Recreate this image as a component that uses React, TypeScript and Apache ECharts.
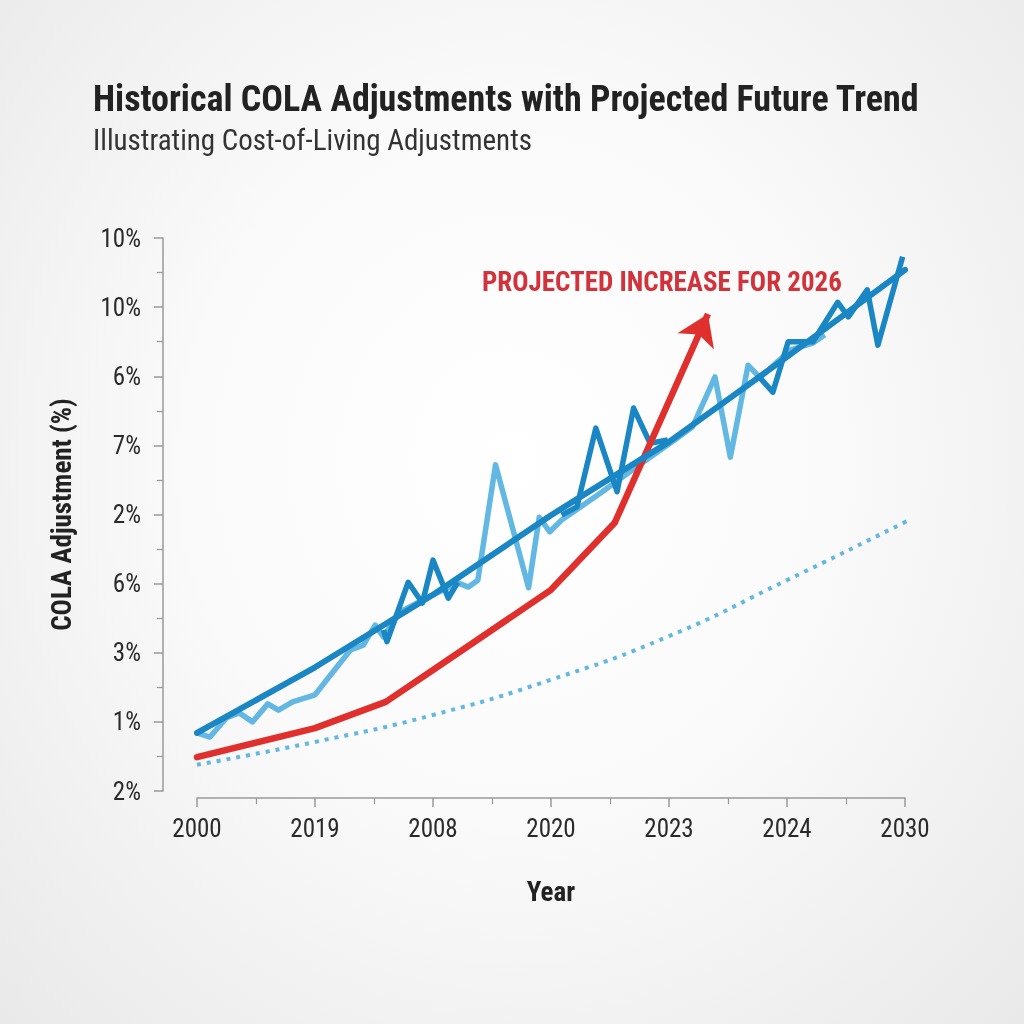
import React, { useEffect, useRef } from 'react';
import * as echarts from 'echarts';

const titleText = 'Historical COLA Adjustments with Projected Future Trend';
const subtitleText = 'Illustrating Cost-of-Living Adjustments';
const annotationText = 'PROJECTED INCREASE FOR 2026';
const xAxisName = 'Year';
const yAxisName = 'COLA Adjustment (%)';

const xLabels = ['2000', '2019', '2008', '2020', '2023', '2024', '2030'];
const yLabels = ['2%', '1%', '3%', '6%', '2%', '7%', '6%', '10%', '10%'];

const trend = [[0, 0.84], [1, 1.79], [2, 2.84], [3, 3.99], [4, 5.05], [5, 6.28], [6, 7.54]];

const lightNoisy = [
  [0, 0.84], [0.11, 0.78], [0.25, 1.06], [0.36, 1.13], [0.47, 1.0], [0.6, 1.26], [0.69, 1.17],
  [0.81, 1.29], [1.0, 1.39], [1.1, 1.61], [1.3, 2.04], [1.41, 2.11], [1.51, 2.4], [1.58, 2.23],
  [1.72, 2.59], [2.0, 2.84], [2.21, 3.01], [2.3, 2.95], [2.38, 3.05], [2.53, 4.72], [2.81, 2.94],
  [2.9, 3.96], [2.99, 3.75], [3.09, 3.92], [3.42, 4.31], [3.75, 4.72], [4.05, 5.08], [4.2, 5.27],
  [4.39, 5.99], [4.52, 4.83], [4.67, 6.16], [4.77, 5.98], [5.03, 6.38], [5.22, 6.48], [5.32, 6.6],
];

const darkNoisy = [
  [1.58, 2.33], [1.61, 2.16], [1.79, 3.02], [1.91, 2.72], [2.0, 3.34], [2.13, 2.79], [2.21, 3.02],
  null,
  [3.09, 3.99], [3.22, 4.11], [3.38, 5.25], [3.56, 4.33], [3.7, 5.54], [3.84, 5.03], [3.99, 5.08],
  null,
  [4.77, 5.98], [4.88, 5.77], [5.01, 6.5], [5.22, 6.5], [5.43, 7.07], [5.52, 6.86], [5.68, 7.25],
  [5.77, 6.45], [5.98, 7.73],
];

const projected = [[0, 0.49], [1, 0.91], [1.6, 1.29], [2, 1.75], [3, 2.91], [3.54, 3.88]];
const arrowFrom = [3.54, 3.88];
const arrowTo = [4.33, 6.9];

const baseline = [[0, 0.38], [1, 0.71], [2, 1.1], [3, 1.61], [4, 2.24], [5, 3.05], [6, 3.89], [6.07, 3.96]];

const FONT = "'Roboto Condensed','Liberation Sans Narrow','Arial Narrow','DejaVu Sans Condensed',Roboto,sans-serif";
const DARK = '#1a86c4';
const LIGHT = '#62b8e2';
const RED = '#e0302e';

export default function App() {
  const ref = useRef<HTMLDivElement>(null);
  useEffect(() => {
    if (!ref.current) return;
    const chart = echarts.init(ref.current, null, { renderer: 'svg' });
    const toPts = (arr: any[]) => arr.map((p) => (p ? p : [null, null]));
    const axisCommon = {
      axisLine: { show: true, onZero: false, lineStyle: { color: '#9a9a9a', width: 1.5 } },
      axisTick: { show: true, length: 9, lineStyle: { color: '#9a9a9a', width: 1.5 } },
      minorTick: { show: true, splitNumber: 2, length: 6, lineStyle: { color: '#9a9a9a', width: 1.2 } },
      splitLine: { show: false },
      nameLocation: 'middle',
      nameTextStyle: { fontFamily: FONT, fontSize: 27, fontWeight: 'bold', color: '#222' },
    };
    chart.setOption({
      animation: false,
      backgroundColor: 'transparent',
      textStyle: { fontFamily: FONT },
      title: {
        text: titleText,
        subtext: subtitleText,
        left: 88,
        top: 76,
        itemGap: 8,
        textStyle: { fontFamily: FONT, fontSize: 36, fontWeight: 'bold', color: '#222' },
        subtextStyle: { fontFamily: FONT, fontSize: 29, color: '#333' },
      },
      grid: { left: 197, right: 119, top: 238, bottom: 233 },
      xAxis: {
        type: 'value',
        min: 0,
        max: 6,
        interval: 1,
        offset: 7,
        name: xAxisName,
        nameGap: 80,
        ...axisCommon,
        axisLabel: {
          margin: 18,
          fontFamily: FONT,
          fontSize: 25,
          color: '#2a2a2a',
          formatter: (v: number) => xLabels[Math.round(v)] ?? '',
        },
      },
      yAxis: {
        type: 'value',
        min: 0,
        max: 8,
        interval: 1,
        offset: 34,
        name: yAxisName,
        nameGap: 88,
        ...axisCommon,
        axisLabel: {
          margin: 22,
          fontFamily: FONT,
          fontSize: 25,
          color: '#2a2a2a',
          formatter: (v: number) => yLabels[Math.round(v)] ?? '',
        },
      },
      graphic: [
        {
          type: 'text',
          left: 482,
          top: 268,
          style: {
            text: annotationText,
            fontFamily: FONT,
            fontSize: 27,
            fontWeight: 'bold',
            fill: '#d2323a',
          },
        },
      ],
      series: [
        {
          type: 'line',
          data: baseline,
          smooth: true,
          showSymbol: false,
          clip: false,
          lineStyle: { color: LIGHT, width: 4, type: [4, 6] },
          z: 1,
        },
        {
          type: 'line',
          data: lightNoisy,
          showSymbol: false,
          lineStyle: { color: LIGHT, width: 5.5, join: 'round' },
          z: 2,
        },
        {
          type: 'line',
          data: projected,
          showSymbol: false,
          lineStyle: { color: RED, width: 6.5, join: 'round', cap: 'round' },
          markLine: {
            silent: true,
            symbol: ['none', 'arrow'],
            symbolSize: 30,
            label: { show: false },
            emphasis: { disabled: true },
            itemStyle: { color: RED },
            lineStyle: { color: RED, width: 6.5, type: 'solid' },
            data: [[{ coord: arrowFrom }, { coord: arrowTo }]],
          },
          z: 3,
        },
        {
          type: 'line',
          data: toPts(darkNoisy),
          connectNulls: false,
          showSymbol: false,
          lineStyle: { color: DARK, width: 5.5, join: 'round' },
          z: 4,
        },
        {
          type: 'line',
          data: trend,
          showSymbol: false,
          lineStyle: { color: DARK, width: 6, cap: 'round', join: 'round' },
          z: 5,
        },
      ],
    });
    return () => chart.dispose();
  }, []);
  return (
    <div
      style={{
        position: 'fixed',
        left: 0,
        top: 0,
        width: 1024,
        height: 1024,
        background: 'radial-gradient(ellipse at 50% 45%, #ffffff 0%, #fafafa 45%, #e9e9e9 100%)',
      }}
    >
      <div ref={ref} style={{ width: 1024, height: 1024 }} />
    </div>
  );
}
